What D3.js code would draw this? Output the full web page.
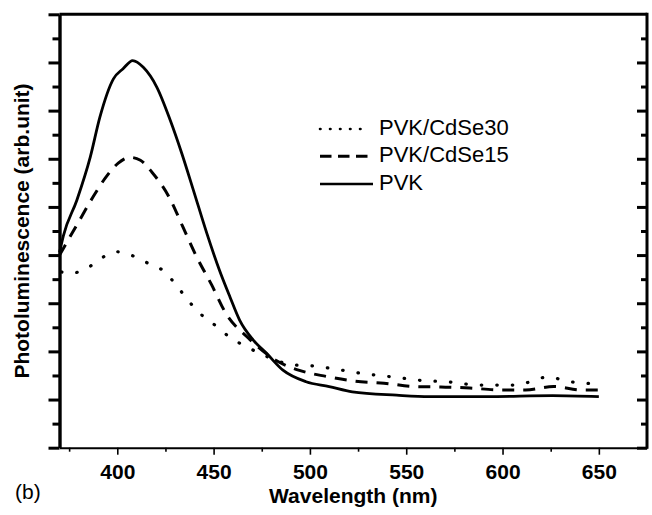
<!DOCTYPE html>
<html>
<head>
<meta charset="utf-8">
<script src="https://cdn.jsdelivr.net/npm/d3@7"></script>
<style>
  body { margin: 0; background: #fff; }
  svg { display: block; font-family: Arial, "Liberation Sans", sans-serif; }
</style>
</head>
<body>
<svg id="chart" width="652" height="515"></svg>
<script>
// values (y in arbitrary units, 0..9 = axis range)
const pvkNm = [370, 372, 379, 386, 391, 398, 403, 408, 413.5, 420.5, 427.5, 433.5, 439.5, 446.5, 453, 458.5, 463.5, 470.5, 477.5, 486, 498, 510, 522, 545, 562, 592, 626, 650];
const pvkValues = [4.05, 4.4, 5.14, 6.04, 6.87, 7.66, 7.87, 8.04, 7.90, 7.49, 6.80, 6.11, 5.35, 4.45, 3.69, 3.13, 2.65, 2.24, 1.96, 1.61, 1.37, 1.27, 1.16, 1.09, 1.06, 1.06, 1.08, 1.06];

const cdse15Nm = [370, 379.5, 387, 394.5, 400.5, 406.5, 412, 418, 427.5, 434, 441, 449, 456.5, 468, 482.5, 495, 508.5, 523.5, 538.5, 554, 568, 583, 598, 612, 626.5, 641, 650];
const cdse15Values = [4.0, 4.66, 5.18, 5.64, 5.91, 6.03, 5.97, 5.72, 5.16, 4.59, 3.98, 3.38, 2.78, 2.28, 1.81, 1.60, 1.48, 1.38, 1.34, 1.27, 1.26, 1.24, 1.20, 1.20, 1.27, 1.20, 1.20];

const cdse30Nm = [371, 375.5, 384, 391.5, 399.5, 407, 415.5, 423, 430, 436.5, 444, 451.5, 458.5, 466.5, 474, 491.5, 501, 510.5, 527.5, 545, 557, 571, 588.5, 606.5, 624, 632.5, 642, 650];
const cdse30Values = [3.65, 3.62, 3.72, 3.93, 4.07, 4.00, 3.84, 3.70, 3.41, 3.07, 2.75, 2.52, 2.29, 2.11, 1.96, 1.72, 1.70, 1.65, 1.54, 1.46, 1.40, 1.37, 1.30, 1.30, 1.47, 1.39, 1.34, 1.33];

const seriesNames = ["PVK/CdSe30", "PVK/CdSe15", "PVK"];
const xMajorTicks = [400, 450, 500, 550, 600, 650];
const xMinorTicks = [375, 425, 475, 525, 575, 625];
const yMajorTicks = [0, 1, 2, 3, 4, 5, 6, 7, 8, 9];
const yMinorTicks = [0.5, 1.5, 2.5, 3.5, 4.5, 5.5, 6.5, 7.5, 8.5];

// plot box (window.top is read only, so use other names)
var plotLeft = 59.5, plotRight = 647, plotTop = 14.3, plotBottom = 447.7;

var svg = d3.select("#chart");
var x = d3.scaleLinear().domain([370, 675]).range([plotLeft, plotRight]);
var y = d3.scaleLinear().domain([0, 9]).range([plotBottom, plotTop]);

// the three curves
var line = d3.line()
  .x(function(d) { return x(d[0]); })
  .y(function(d) { return y(d[1]); })
  .curve(d3.curveMonotoneX);

function pairs(a, b) { return a.map(function(v, i) { return [v, b[i]]; }); }

var styles = [
  { name: seriesNames[0], data: pairs(cdse30Nm, cdse30Values), dash: "0.5,15", width: 3.2, cap: "round", legendDash: "0.5,9.5", legendWidth: 2.6 },
  { name: seriesNames[1], data: pairs(cdse15Nm, cdse15Values), dash: "12,9", width: 3, cap: "butt", legendDash: "11.5,6.5", legendWidth: 3 },
  { name: seriesNames[2], data: pairs(pvkNm, pvkValues), dash: null, width: 2.8, cap: "butt", legendDash: null, legendWidth: 2.6 }
];

svg.append("g").selectAll("path")
  .data(styles)
  .enter().append("path")
  .attr("d", function(d) { return line(d.data); })
  .attr("fill", "none")
  .attr("stroke", "#000")
  .attr("stroke-width", function(d) { return d.width; })
  .attr("stroke-linecap", function(d) { return d.cap; })
  .attr("stroke-linejoin", "round")
  .attr("stroke-dasharray", function(d) { return d.dash; });

// frame
var frame = svg.append("g").attr("stroke", "#000").attr("fill", "none");
frame.append("line").attr("x1", plotLeft).attr("x2", plotRight).attr("y1", plotTop).attr("y2", plotTop).attr("stroke-width", 3);
frame.append("line").attr("x1", plotRight).attr("x2", plotRight).attr("y1", plotTop - 1.5).attr("y2", plotBottom + 1).attr("stroke-width", 3);

// left axis: ticks outward, thick
var gl = svg.append("g").attr("transform", "translate(" + plotLeft + ",0)")
  .call(d3.axisLeft(y).tickValues(yMajorTicks).tickSize(11).tickSizeOuter(0).tickFormat(""));
gl.select(".domain").attr("stroke-width", 3.4);
gl.selectAll(".tick line").attr("stroke-width", 3);
var glm = svg.append("g").attr("transform", "translate(" + plotLeft + ",0)")
  .call(d3.axisLeft(y).tickValues(yMinorTicks).tickSize(7).tickSizeOuter(0).tickFormat(""));
glm.select(".domain").remove();
glm.selectAll(".tick line").attr("stroke-width", 3);

// right axis: ticks inward
var gr = svg.append("g").attr("transform", "translate(" + plotRight + ",0)")
  .call(d3.axisLeft(y).tickValues(yMajorTicks.slice(0, 9)).tickSize(10).tickSizeOuter(0).tickFormat(""));
gr.select(".domain").remove();
gr.selectAll(".tick line").attr("stroke-width", 3);
var grm = svg.append("g").attr("transform", "translate(" + plotRight + ",0)")
  .call(d3.axisLeft(y).tickValues(yMinorTicks).tickSize(6).tickSizeOuter(0).tickFormat(""));
grm.select(".domain").remove();
grm.selectAll(".tick line").attr("stroke-width", 3);

// bottom axis
var gb = svg.append("g").attr("transform", "translate(0," + plotBottom + ")")
  .call(d3.axisBottom(x).tickValues(xMajorTicks).tickSize(7).tickSizeOuter(0).tickPadding(9).tickFormat(d3.format("d")));
gb.select(".domain").attr("stroke-width", 2);
gb.selectAll(".tick line").attr("stroke-width", 1.6);
gb.selectAll(".tick text")
  .attr("font-family", "Arial, 'Liberation Sans', sans-serif")
  .attr("font-size", 21).attr("font-weight", "bold").attr("fill", "#000");
var gbm = svg.append("g").attr("transform", "translate(0," + plotBottom + ")")
  .call(d3.axisBottom(x).tickValues(xMinorTicks).tickSize(4).tickSizeOuter(0).tickFormat(""));
gbm.select(".domain").remove();
gbm.selectAll(".tick line").attr("stroke-width", 1.6);

// axis titles
svg.append("text")
  .attr("x", (plotLeft + plotRight) / 2).attr("y", 503)
  .attr("text-anchor", "middle").attr("font-size", 21).attr("font-weight", "bold")
  .text("Wavelength (nm)");

svg.append("text")
  .attr("transform", "translate(29," + ((plotTop + plotBottom) / 2) + ") rotate(-90)")
  .attr("text-anchor", "middle").attr("font-size", 21).attr("font-weight", "bold")
  .text("Photoluminescence (arb.unit)");

svg.append("text")
  .attr("x", 15).attr("y", 499)
  .attr("font-size", 21)
  .text("(b)");

// legend
var legend = svg.append("g");
var rows = [135, 162.3, 190];
var lineEnds = [367, 368, 373];
styles.forEach(function(s, i) {
  legend.append("line")
    .attr("x1", 320).attr("x2", lineEnds[i])
    .attr("y1", rows[i] - 6).attr("y2", rows[i] - 6)
    .attr("stroke", "#000")
    .attr("stroke-width", s.legendWidth)
    .attr("stroke-linecap", s.cap)
    .attr("stroke-dasharray", s.legendDash);
  legend.append("text")
    .attr("x", 379).attr("y", rows[i])
    .attr("font-size", 22)
    .text(s.name);
});
</script>
</body>
</html>
